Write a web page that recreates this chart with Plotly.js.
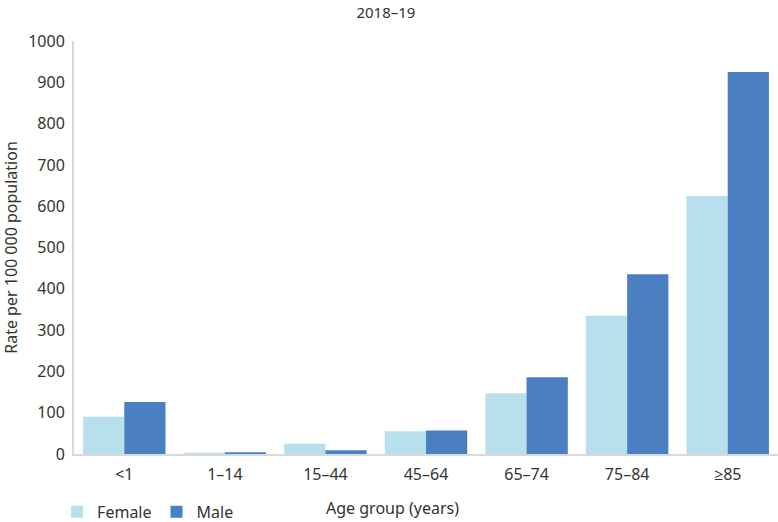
<!DOCTYPE html>
<html>
<head>
<meta charset="utf-8">
<script src="https://cdn.plot.ly/plotly-3.0.1.min.js"></script>
<style>html,body{margin:0;padding:0;background:#fff}#chart{width:778px;height:522px}</style>
</head>
<body>
<div id="chart"></div>
<script>
const categories = ['<1', '1–14', '15–44', '45–64', '65–74', '75–84', '≥85'];
const female = [90, 3, 25, 55, 147, 335, 625];
const male = [126, 4, 9, 57, 186, 435, 925];
const yTicks = [0, 100, 200, 300, 400, 500, 600, 700, 800, 900, 1000];
const titleText = '2018–19';
const xTitle = 'Age group (years)';
const yTitle = 'Rate per 100 000 population';

const FONT = '"Noto Sans", "Open Sans", sans-serif';
const TXT = '#333';
const traces = [
  {type: 'bar', name: 'Female', x: categories, y: female, marker: {color: '#b7dfec'}, hoverinfo: 'x+y+name'},
  {type: 'bar', name: 'Male', x: categories, y: male, marker: {color: '#4a7fc1'}, hoverinfo: 'x+y+name'}
];
const layout = {
  width: 778, height: 522,
  margin: {l: 74, r: 0, t: 41, b: 68, autoexpand: false},
  paper_bgcolor: '#fff', plot_bgcolor: '#fff',
  font: {family: FONT, size: 16, color: TXT},
  title: {text: titleText, x: 0.496, xanchor: 'center', y: 0.986, yanchor: 'top', font: {family: FONT, size: 15, color: TXT}},
  barmode: 'group', bargap: 0.18, bargroupgap: 0,
  xaxis: {
    type: 'category', showgrid: false, zeroline: false,
    showline: true, linecolor: '#d9d9d9', linewidth: 2,
    ticks: '', tickfont: {family: FONT, size: 16, color: TXT},
    ticklabelstandoff: 5, automargin: false
  },
  yaxis: {
    range: [0, 1000], tickvals: yTicks, ticktext: yTicks.map(String),
    showgrid: false, zeroline: false,
    showline: true, linecolor: '#d9d9d9', linewidth: 2,
    ticks: '', tickfont: {family: FONT, size: 16, color: TXT},
    ticklabelstandoff: 4, automargin: false,
    title: {text: yTitle, font: {family: FONT, size: 16, color: TXT}, standoff: 8}
  },
  showlegend: true,
  legend: {orientation: 'h', x: -0.024, xanchor: 'left', y: -0.14, yanchor: 'middle',
    font: {family: FONT, size: 16, color: TXT}, itemwidth: 30, tracegroupgap: 0, bgcolor: 'rgba(0,0,0,0)'},
  annotations: [
    {text: xTitle, xref: 'paper', yref: 'paper', x: 0.453, y: -0.13, xanchor: 'center', yanchor: 'middle', showarrow: false,
     font: {family: FONT, size: 16, color: TXT}}
  ]
};
Plotly.newPlot('chart', traces, layout, {displayModeBar: false, staticPlot: true});
</script>
</body>
</html>
